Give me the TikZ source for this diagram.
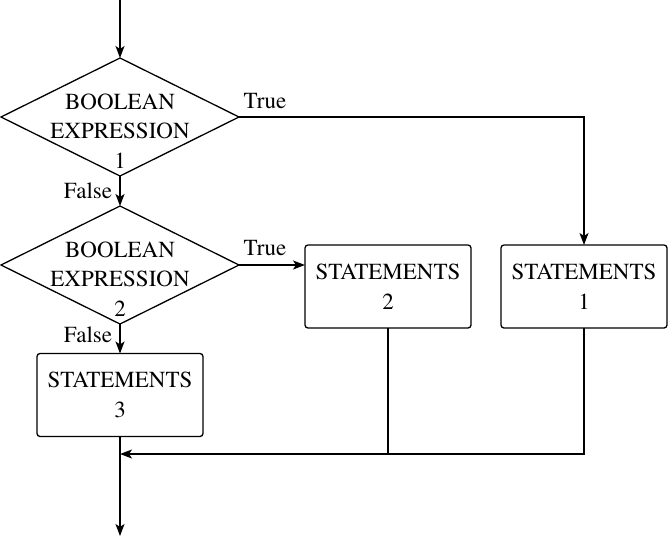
\documentclass[tikz,border=0pt]{standalone}
\usepackage[T1]{fontenc}
\usepackage{times}
\usetikzlibrary{shapes.geometric,arrows.meta}
\begin{document}
\begin{tikzpicture}[x=1pt,y=-1pt,line width=1.3pt,
  dec/.style={draw,diamond,minimum width=238pt,minimum height=118pt,inner sep=0pt,outer sep=0pt},
  stbox/.style={draw,rounded corners=3pt,minimum width=166pt,minimum height=83pt,inner sep=0pt,outer sep=0pt,font=\rmfamily\fontsize{23}{29.5}\selectfont,align=center},
  txt/.style={font=\rmfamily\fontsize{23}{29.5}\selectfont,align=center,inner sep=0pt},
  arr/.style={-{Stealth[length=12pt,width=9pt,inset=3pt]}}]
\useasboundingbox (0,0) rectangle (668,536);
\node[dec] (d1) at (120,117) {};
\node[txt] (t1) at (120,131) {BOOLEAN\\EXPRESSION\\1};
\node[dec] (d2) at (120,265) {};
\node[txt] (t2) at (120,279) {BOOLEAN\\EXPRESSION\\2};
\node[stbox] (b3) at (120,395) {STATEMENTS\\3};
\node[stbox] (b2) at (388,286.5) {STATEMENTS\\2};
\node[stbox] (b1) at (584,286.5) {STATEMENTS\\1};
\coordinate (start) at (120,0);
\coordinate (m) at (120,454);
\coordinate (end) at (120,536);
\node[txt] (tr1) at (265,101) {True};
\node[txt] (tr2) at (265,248) {True};
\node[txt] (f1) at (88,191) {False};
\node[txt] (f2) at (88,335) {False};
\draw[arr] (start) -- (d1.north);
\draw[arr] (d1.south) -- (d2.north);
\draw[arr] (d1.east) -| (b1.north);
\draw[arr] (d2.east) -- (d2.east -| b2.west);
\draw[arr] (d2.south) -- (b3.north);
\draw[arr] (b1.south) |- (m);
\draw (b2.south) -- (b2.south |- m);
\draw[arr] (b3.south) -- (end);
\end{tikzpicture}
\end{document}
